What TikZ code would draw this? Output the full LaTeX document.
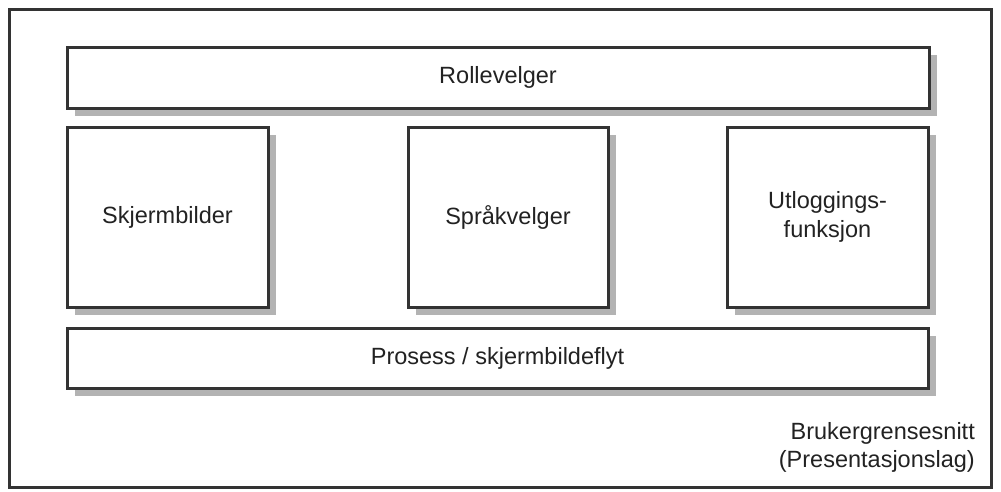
\documentclass[tikz,border=0pt]{standalone}
\usepackage{fontspec}
\setmainfont{Liberation Sans}
\usetikzlibrary{shadows}
\definecolor{edge}{HTML}{333333}
\definecolor{shade}{HTML}{B3B3B3}
\definecolor{ink}{HTML}{222222}
\tikzset{
  box/.style={draw=edge, line width=3pt, fill=white, inner sep=0pt, align=center,
    text=ink, font=\fontsize{23.5}{29}\selectfont,
    drop shadow={shadow xshift=8pt, shadow yshift=-8pt, fill=shade, opacity=1}},
  frame/.style={draw=edge, line width=3pt},
  lbl/.style={text=ink, font=\fontsize{23.5}{28}\selectfont, inner sep=0pt, align=right}
}
\begin{document}
\begin{tikzpicture}[x=1pt,y=-1pt]
\useasboundingbox (0,0) rectangle (1001,491);
\draw[frame] (9,9) rectangle (991,487);
\node[box, minimum width=862pt, minimum height=61pt] (rolle) at (498,77.5) {Rollevelger};
\node[box, minimum width=201pt, minimum height=180pt] (skjerm) at (167.5,217) {Skjermbilder};
\node[box, minimum width=200pt, minimum height=180pt] (sprak) at (508,217) {Språkvelger};
\node[box, minimum width=201pt, minimum height=180pt] (utlogg) at (827.5,217) {Utloggings-\\funksjon};
\node[box, minimum width=861pt, minimum height=60pt] (prosess) at (497.5,358) {Prosess / skjermbildeflyt};
\node[lbl, anchor=east] (bruker) at (975,447) {Brukergrensesnitt\\(Presentasjonslag)};
\end{tikzpicture}
\end{document}
